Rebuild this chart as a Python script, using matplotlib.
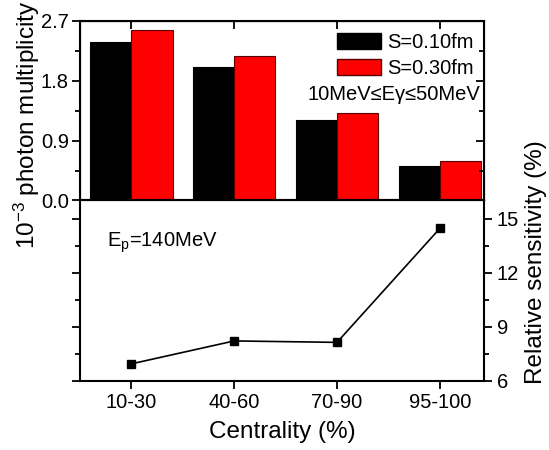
import matplotlib
matplotlib.use("Agg")
import matplotlib.pyplot as plt
import numpy as np
from matplotlib.ticker import MultipleLocator, FixedLocator, NullFormatter
from matplotlib.patches import Patch

plt.rcParams['font.family'] = ['Liberation Sans', 'DejaVu Sans']
plt.rcParams['mathtext.fontset'] = 'custom'
plt.rcParams['mathtext.rm'] = 'Liberation Sans'
plt.rcParams['mathtext.it'] = 'Liberation Sans:italic'

categories = ["10-30", "40-60", "70-90", "95-100"]
mult_s010 = [2.39, 2.01, 1.21, 0.52]
mult_s030 = [2.56, 2.18, 1.31, 0.59]
sensitivity = [6.95, 8.22, 8.14, 14.45]
legend_labels = ["S=0.10fm", "S=0.30fm"]

W, H = 549, 450
fig = plt.figure(figsize=(W/100, H/100), dpi=100)
L, R = 80/W, 484/W
top_t, mid, bot = 1-21/H, 1-200.5/H, 1-381/H
ax1 = fig.add_axes([L, mid, R-L, top_t-mid])
ax2 = fig.add_axes([L, bot, R-L, mid-bot])

x = np.arange(1, len(categories)+1)
w = 0.4
xlim = (0.5, 4.43)
ax1.bar(x-w/2, mult_s010, w, color='black', edgecolor='black', linewidth=0.8)
ax1.bar(x+w/2, mult_s030, w, color='#ff0000', edgecolor='#5a0000', linewidth=0.8)
ax1.set_xlim(*xlim)
ax1.set_ylim(0, 2.7)
ax1.yaxis.set_major_locator(MultipleLocator(0.9))
ax1.yaxis.set_minor_locator(MultipleLocator(0.45))
ax1.yaxis.set_major_formatter(matplotlib.ticker.FormatStrFormatter('%.1f'))
ax1.set_xticks(x)
ax1.set_xticklabels([])
ax1.tick_params(axis='both', which='major', direction='out', length=6, width=1.3, labelsize=14.5, pad=2)
ax1.tick_params(axis='y', which='minor', direction='out', length=3.5, width=1.3)
for s in ax1.spines.values():
    s.set_linewidth(1.5)
axr = ax1.twinx()
axr.set_ylim(0, 2.7)
axr.yaxis.set_major_locator(MultipleLocator(0.9))
axr.yaxis.set_minor_locator(MultipleLocator(0.45))
axr.yaxis.set_major_formatter(NullFormatter())
axr.tick_params(axis='y', which='major', direction='in', length=6, width=1.3)
axr.tick_params(axis='y', which='minor', direction='in', length=3.5, width=1.3)
axt = ax1.secondary_xaxis('top')
axt.set_xticks(x)
axt.set_xticklabels([])
axt.tick_params(direction='in', length=6, width=1.3)

fig.text(27/W, 1-125/H, r'10$^{\mathregular{-3}}$ photon multiplicity', fontsize=17.5,
         rotation=90, ha='center', va='center')

handles = [Patch(facecolor='black', edgecolor='black'),
           Patch(facecolor='#ff0000', edgecolor='#5a0000')]
leg = ax1.legend(handles, legend_labels, loc='upper right', frameon=False,
                 fontsize=14.5, handlelength=2.2, handleheight=0.85,
                 handletextpad=0.3, borderaxespad=0.1, labelspacing=0.35,
                 bbox_to_anchor=(1.0, 0.99))
ax1.text(0.99, 0.59, '10MeV\u2264E\u03b3\u226450MeV', transform=ax1.transAxes,
         ha='right', va='center', fontsize=14.5)

ax2.plot(x, sensitivity, color='black', marker='s', markersize=5.5, linewidth=1.2)
ax2.set_xlim(*xlim)
ax2.set_ylim(6, 16)
ax2.yaxis.set_major_locator(FixedLocator([6, 9, 12, 15]))
ax2.yaxis.set_minor_locator(FixedLocator([7.5, 10.5, 13.5]))
ax2.set_xticks(x)
ax2.set_xticklabels(categories)
ax2.tick_params(axis='y', which='both', left=True, right=True, labelleft=False, labelright=True)
ax2.tick_params(axis='both', which='major', direction='out', length=6, width=1.3, labelsize=14.5, pad=3)
ax2.tick_params(axis='y', which='minor', direction='out', length=3.5, width=1.3)
for s in ax2.spines.values():
    s.set_linewidth(1.5)
fig.text(536/W, 1-262/H, 'Relative sensitivity (%)', fontsize=17.5,
         rotation=90, ha='center', va='center')
ax2.set_xlabel('Centrality (%)', fontsize=17.5, labelpad=6)
ax2.text(0.068, 0.765, r'E$_\mathregular{p}$=140MeV', transform=ax2.transAxes,
         ha='left', va='center', fontsize=14.5)

fig.savefig('out.png', dpi=100)
